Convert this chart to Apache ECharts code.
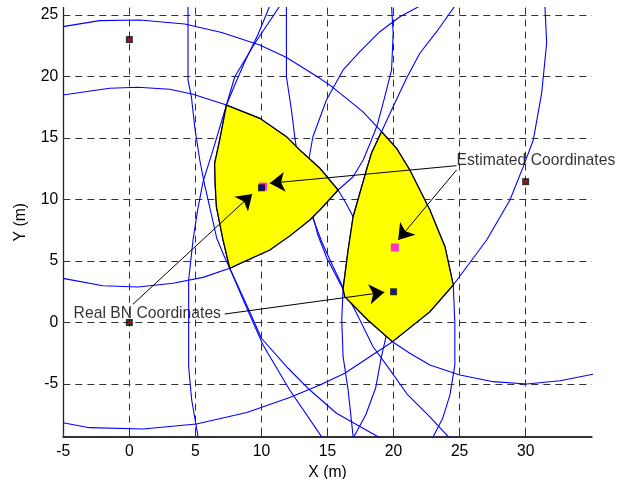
<!DOCTYPE html>
<html>
<head>
<meta charset="utf-8">
<script src="https://cdn.jsdelivr.net/npm/echarts@6/dist/echarts.min.js"></script>
<style>html,body{margin:0;padding:0;background:#fff}#c{width:631px;height:479px}</style>
</head>
<body>
<div id="c"></div>
<script>
// ---- tick labels ----
const xTicks = [-5, 0, 5, 10, 15, 20, 25, 30];
const yTicks = [-5, 0, 5, 10, 15, 20, 25];

// ---- range curves (traced) ----
const curveC1 = [[-5.03,24.05],[-2.25,24.54],[0.78,24.59],[4.19,24.27],[6.99,23.58],[9.87,22.56],[11.9,21.54],[14.42,19.85],[15.4,19.12],[17.67,17.14],[19.09,15.51],[20.23,14.16],[21.23,12.4],[22.75,9.15],[23.89,6.16],[24.52,3.05],[24.64,-0.04],[24.64,-3.46],[24.27,-5.89],[23.73,-7.76],[23.0,-9.28],[22.86,-9.6]];
const curveC2 = [[-5.03,18.5],[-1.49,19.04],[0.65,19.12],[3.05,18.96],[4.82,18.55],[7.35,17.68],[9.87,16.6],[11.89,15.11],[12.9,14.02],[14.42,12.54],[15.8,10.77],[16.39,9.72],[16.94,8.6],[17.6,5.89],[18.43,2.64],[19.11,-0.2],[19.42,-1.2],[19.1,-2.7],[18.65,-5.3],[17.9,-7.5],[17.0,-9.28],[16.85,-9.6]];
const curveC3 = [[-5.03,3.59],[-2.0,2.99],[0.65,2.89],[3.3,3.19],[5.58,3.67],[7.6,4.41],[8.11,4.67],[10.63,5.89],[13.66,8.33],[14.42,9.15],[15.8,10.77],[16.94,11.85],[17.7,13.21],[18.33,14.84],[18.77,16.06],[19.34,18.36],[19.85,20.53],[19.97,23.51],[19.85,25.73]];
const curveC4 = [[21.99,25.73],[20.48,24.86],[18.96,23.64],[17.45,22.02],[16.18,20.53],[14.92,18.09],[13.89,15.08],[13.58,13.21],[13.5,11.41],[13.77,9.15],[14.27,7.11],[14.95,5.24],[16.18,2.7],[16.31,2.1],[18.05,0.2],[19.92,-1.56],[21.23,-2.5],[22.75,-3.46],[25.02,-4.27],[27.55,-4.81],[30.08,-5.0],[32.6,-4.73],[35.1,-4.2]];
const curveC5 = [[11.39,25.73],[9.5,22.7],[7.98,19.98],[7.35,17.68],[6.84,14.84],[6.46,12.94],[6.5,11.18],[6.59,9.41],[7.09,6.71],[7.6,4.41],[8.81,1.59],[10.0,-1.28],[12.02,-3.72],[13.66,-5.49],[15.68,-7.38],[18.83,-9.28],[19.2,-9.5]];
const curveP = [[10.63,25.73],[9.72,23.37],[8.73,21.18],[7.98,19.31],[7.35,17.68],[6.33,14.02],[5.58,11.45],[5.17,9.15],[4.82,6.71],[4.49,3.46],[4.49,-3.62],[4.72,-6.3],[5.2,-9.28],[5.23,-9.5]];
const curveQ = [[4.44,25.73],[4.44,19.72],[4.7,18.33],[4.95,15.89],[5.33,13.21],[5.7,11.18],[6.08,9.39],[6.61,6.87],[7.14,5.49],[7.6,4.41],[8.89,1.18],[10.12,-1.83],[12.14,-5.49],[14.55,-9.28],[14.7,-9.5]];
const curveR = [[11.89,25.73],[11.89,19.98],[12.27,17.28],[12.52,15.11],[12.67,14.02],[13.36,10.77],[13.89,8.5],[14.57,6.54],[15.4,4.59],[16.31,2.56],[17.2,0.75],[18.45,-1.97],[19.47,-3.46],[21.08,-5.89],[22.75,-7.68],[24.14,-9.28],[24.35,-9.5]];
const curveT = [[-5.03,-8.15],[-3.01,-8.55],[1.03,-8.66],[5.08,-8.25],[8.89,-7.32],[12.14,-6.1],[14.42,-5.08],[16.31,-4.13],[18.2,-2.78],[19.92,-1.56],[22.75,0.88],[24.52,3.05],[27.05,6.71],[28.81,9.96],[29.82,12.67],[30.58,14.84],[31.21,18.63],[31.59,22.7],[31.46,25.73]];
const curveU = [[24.64,25.73],[23.26,23.64],[21.99,21.89],[20.98,19.85],[19.85,17.28],[19.09,15.51],[18.33,13.76],[17.95,12.4],[16.94,8.6],[16.56,5.89],[16.18,2.78],[16.08,0.2],[16.18,-2.78],[16.56,-5.49],[16.94,-9.28],[16.97,-9.5]];

// ---- feasible regions ----
const leftRegion = [[7.35,17.68],[9.87,16.6],[11.89,15.11],[12.9,14.02],[14.42,12.54],[15.8,10.77],[14.42,9.15],[13.66,8.33],[12.14,7.03],[10.63,5.89],[8.4,4.8],[7.6,4.41],[7.09,6.71],[6.59,9.41],[6.5,11.18],[6.46,12.94],[6.84,14.84]];
const rightRegion = [[19.09,15.51],[20.23,14.16],[21.23,12.4],[22.75,9.15],[23.89,6.16],[24.52,3.05],[22.75,0.88],[19.92,-1.56],[18.05,0.2],[16.31,2.1],[16.18,2.7],[16.56,5.89],[16.94,8.6],[17.95,12.4],[18.33,13.76]];

// ---- points ----
const beacons = [[0,23],[0,0],[30,11.45]];
const realBN = [[10,10.95],[20,2.5]];
const estimated = [[10.12,11.05],[20.1,6.1]];

// ---- annotations ----
const estArrows = [[[24.77,12.75],[10.63,11.32]],[[24.77,12.4],[20.35,6.71]]];
const realArrows = [[[0.27,1.48],[9.3,10.45]],[[7.22,0.69],[19.3,2.46]]];
const estLabel = [24.77,13.13];
const realLabel = [-4.22,0.69];

const FONT = 'Liberation Sans, Arial, sans-serif';
const FS = 15.7;
const chart = echarts.init(document.getElementById('c'), null, {renderer:'canvas'});

const curves = [curveC1,curveC2,curveC3,curveC4,curveC5,curveP,curveQ,curveR,curveT,curveU];
const series = [];
curves.forEach(c => series.push({
  type:'line', data:c, symbol:'none', silent:true, z:2, clip:true,
  lineStyle:{color:'#0000ff', width:1.1}
}));
[leftRegion, rightRegion].forEach(poly => series.push({
  type:'custom', z:3, silent:true, clip:true, data:[0],
  renderItem:(params, api) => ({
    type:'polygon',
    shape:{points: poly.map(p => api.coord(p))},
    style:{fill:'#ffff00', stroke:'#000', lineWidth:1.3}
  })
}));
series.push({type:'scatter', z:4, silent:true, data:estimated, symbol:'rect', symbolSize:8, itemStyle:{color:'#ff00ff'}});
series.push({type:'scatter', z:5, silent:true, data:beacons.concat(realBN), symbol:'rect', symbolSize:7, itemStyle:{color:'#000'}});
series.push({type:'scatter', z:6, silent:true, data:beacons, symbol:'rect', symbolSize:2.5, itemStyle:{color:'#ff0000'}});
series.push({type:'scatter', z:6, silent:true, data:realBN, symbol:'rect', symbolSize:3, itemStyle:{color:'#0000ff'}});
series.push({
  type:'lines', coordinateSystem:'cartesian2d', z:7, silent:true,
  data: estArrows.concat(realArrows).map(c => ({coords:c})),
  symbol:['none','arrow'], symbolSize:[9,15],
  lineStyle:{color:'#000', width:1, opacity:1, curveness:0}
});
series.push({
  type:'scatter', z:8, silent:true, symbolSize:0,
  data:[{value:estLabel, name:'Estimated Coordinates'},{value:realLabel, name:'Real BN Coordinates'}],
  label:{show:true, position:'right', distance:0, formatter:'{b}', color:'#000', fontSize:FS, fontFamily:FONT}
});

chart.setOption({
  animation:false,
  backgroundColor:'#ffffff',
  grid:{left:63.3, right:39.3, top:7.6, bottom:42.1, containLabel:false, outerBoundsMode:'none'},
  xAxis:{
    type:'value', min:-5, max:35,
    name:'X (m)', nameLocation:'middle', nameGap:19,
    nameTextStyle:{color:'#000', fontSize:FS, fontFamily:FONT},
    axisLine:{show:true, onZero:false, lineStyle:{color:'#333', width:2}},
    axisTick:{show:true, inside:true, length:5, customValues:xTicks, lineStyle:{color:'#333'}},
    axisLabel:{customValues:xTicks, color:'#000', fontSize:FS, fontFamily:FONT, margin:7},
    splitLine:{show:true, lineStyle:{type:[7,5], color:'#333', width:1}}
  },
  yAxis:{
    type:'value', min:-9.3, max:25.6,
    name:'Y (m)', nameLocation:'middle', nameGap:35, nameRotate:90,
    nameTextStyle:{color:'#000', fontSize:FS, fontFamily:FONT},
    axisLine:{show:true, onZero:false, lineStyle:{color:'#222', width:1.3}},
    axisTick:{show:true, inside:true, length:5, customValues:yTicks, lineStyle:{color:'#333'}},
    axisLabel:{customValues:yTicks, color:'#000', fontSize:FS, fontFamily:FONT, margin:5},
    splitLine:{show:true, lineStyle:{type:[7,5], color:'#333', width:1}}
  },
  series:series
});
</script>
</body>
</html>
